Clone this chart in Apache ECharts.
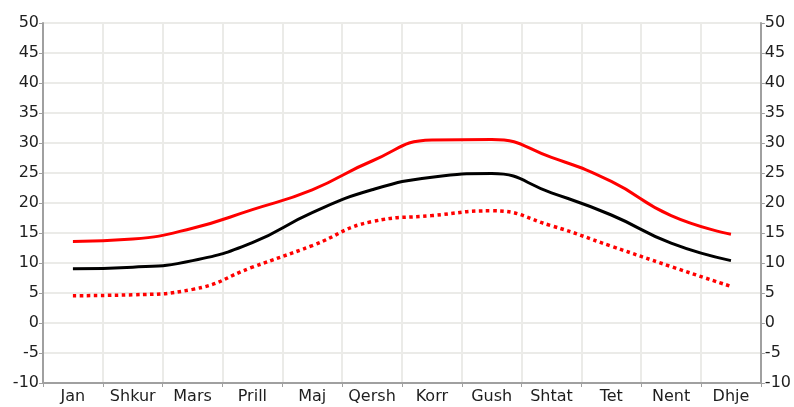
<!DOCTYPE html>
<html>
<head>
<meta charset="utf-8">
<script src="https://cdn.jsdelivr.net/npm/echarts@6/dist/echarts.min.js"></script>
<style>
html, body { margin: 0; padding: 0; background: #fff; }
#main { width: 794px; height: 407px; }
</style>
</head>
<body>
<div id="main"></div>
<script>
// muajt
var months = ['Jan', 'Shkur', 'Mars', 'Prill', 'Maj', 'Qersh', 'Korr', 'Gush', 'Shtat', 'Tet', 'Nent', 'Dhje'];
// temperatura mesatare maksimale, mesatare, minimale
var highTemp = [13.6, 14.0, 15.8, 18.9, 22.2, 27.0, 30.5, 30.6, 27.6, 23.6, 17.9, 14.8];
var meanTemp = [9.05, 9.3, 10.4, 13.4, 18.4, 22.2, 24.3, 24.9, 21.7, 18.0, 13.3, 10.4];
var lowTemp = [4.55, 4.7, 5.6, 9.3, 12.9, 16.9, 17.9, 18.7, 16.2, 12.8, 9.4, 6.1];

var yMin = -10, yMax = 50, yStep = 5;

var myChart = echarts.init(document.getElementById('main'));

var valueAxis = function(pos) {
    return {
        type: 'value',
        position: pos,
        min: yMin,
        max: yMax,
        interval: yStep,
        axisLine: { show: true, lineStyle: { color: '#a0a0a0', width: 2 } },
        axisTick: { show: true, length: 4, lineStyle: { color: '#a0a0a0', width: 1 } },
        axisLabel: {
            margin: 4,
            color: '#1e1e1e',
            fontFamily: 'DejaVu Sans',
            fontSize: 16
        },
        splitLine: { show: pos === 'left', lineStyle: { color: '#ebebe8', width: 2 } }
    };
};

var option = {
    backgroundColor: '#fff',
    animation: false,
    grid: {
        left: 43,
        right: 31,
        top: 23,
        bottom: 24,
        containLabel: false
    },
    xAxis: {
        type: 'category',
        boundaryGap: true,
        data: months,
        axisLine: { onZero: false, lineStyle: { color: '#a0a0a0', width: 2 } },
        axisTick: { show: true, interval: 0, length: 4, lineStyle: { color: '#a0a0a0', width: 1 } },
        axisLabel: {
            interval: 0,
            margin: 6,
            color: '#1e1e1e',
            fontFamily: 'DejaVu Sans',
            fontSize: 16
        },
        splitLine: { show: true, interval: 0, lineStyle: { color: '#ebebe8', width: 2 } }
    },
    yAxis: [valueAxis('left'), valueAxis('right')],
    series: [{
        name: 'max',
        type: 'line',
        data: highTemp,
        smooth: true,
        showSymbol: false,
        lineStyle: { color: '#ff0000', width: 3 }
    }, {
        name: 'mes',
        type: 'line',
        data: meanTemp,
        smooth: true,
        showSymbol: false,
        lineStyle: { color: '#000000', width: 3 }
    }, {
        name: 'min',
        type: 'line',
        data: lowTemp,
        smooth: true,
        showSymbol: false,
        lineStyle: { color: '#ff0000', width: 3.5, type: [3.5, 3.5] }
    }]
};

myChart.setOption(option);
</script>
</body>
</html>
